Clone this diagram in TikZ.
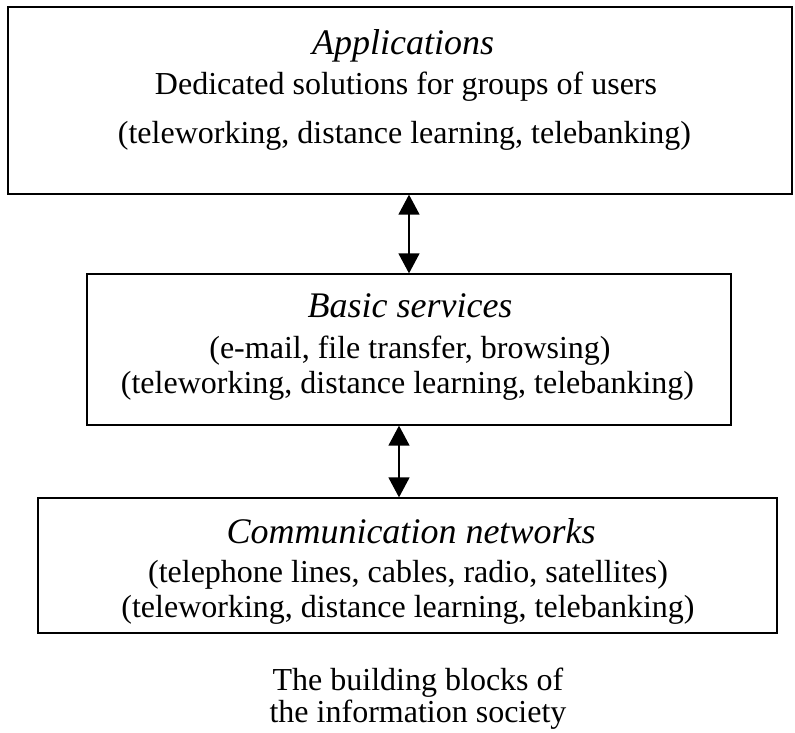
\documentclass[tikz,border=0pt]{standalone}
\usepackage{fontspec}
\setmainfont{Liberation Serif}
\usetikzlibrary{arrows.meta,calc}
\begin{document}
\begin{tikzpicture}[x=1pt,y=-1pt,
  blk/.style={draw, line width=1.3pt, inner sep=0pt},
  txt/.style={anchor=base, inner sep=0pt, font=\fontsize{32}{36}\selectfont},
  ttl/.style={txt, font=\fontsize{36}{40}\selectfont\itshape},
  arr/.style={{Triangle[width=21pt,length=20pt]}-{Triangle[width=21pt,length=20pt]}, line width=1.4pt}]
\useasboundingbox (0,0) rectangle (795,733);
% boxes
\node[blk, minimum width=784pt, minimum height=187pt] (app) at (400,100.5) {};
\node[blk, minimum width=644pt, minimum height=151pt] (bas) at (409,349.5) {};
\node[blk, minimum width=739pt, minimum height=135pt] (com) at (407.5,565.5) {};
% texts
\node[ttl] (app1) at (403,55) {Applications};
\node[txt] (app2) at (406,95) {Dedicated solutions for groups of users};
\node[txt] (app3) at (404.5,144) {(teleworking, distance learning, telebanking)};
\node[ttl] (bas1) at (410,317) {Basic services};
\node[txt] (bas2) at (410,358) {(e-mail, file transfer, browsing)};
\node[txt] (bas3) at (407.5,393) {(teleworking, distance learning, telebanking)};
\node[ttl] (com1) at (411,543) {Communication networks};
\node[txt] (com2) at (408,582) {(telephone lines, cables, radio, satellites)};
\node[txt] (com3) at (408,617) {(teleworking, distance learning, telebanking)};
\node[txt] (cap1) at (418,690) {The building blocks of};
\node[txt] (cap2) at (418,722) {the information society};
% arrows
\draw[arr] ($(app.south)+(9,0)$) -- (bas.north);
\draw[arr] ($(bas.south)+(-10,0)$) -- ($(com.north)+(-8.5,0)$);
\end{tikzpicture}
\end{document}
